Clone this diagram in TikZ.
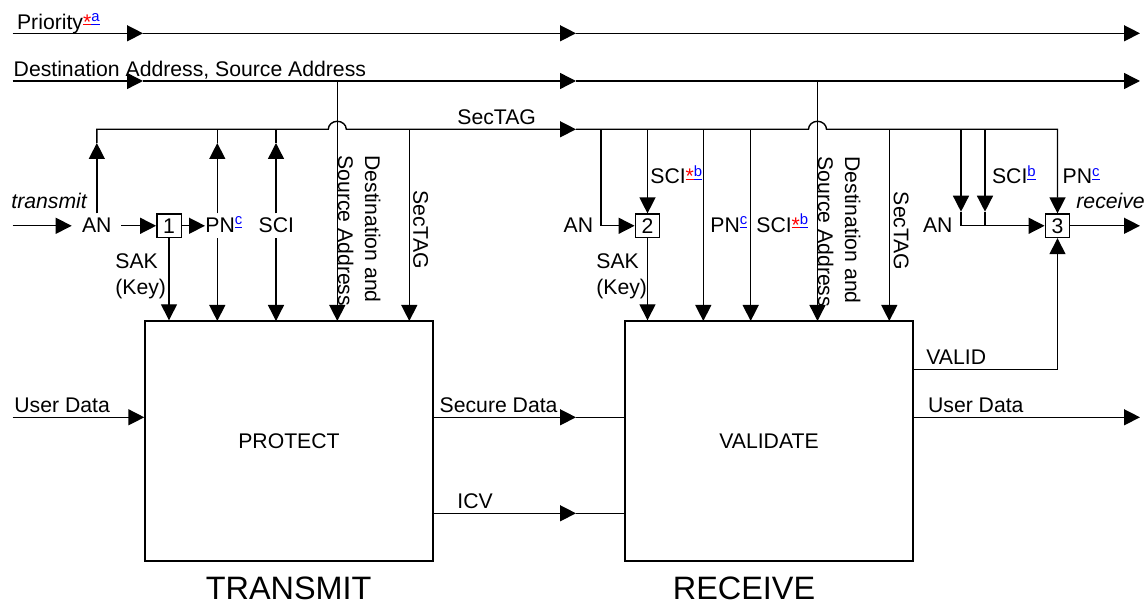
\documentclass[tikz,border=0pt]{standalone}
\usepackage{fontspec}
\setmainfont{Liberation Sans}
\usetikzlibrary{arrows.meta,calc}

\newcommand{\lblsize}{\fontsize{10.6pt}{13.5pt}\selectfont}
\newcommand{\bigsize}{\fontsize{16.2pt}{19pt}\selectfont}
\newcommand{\fnstar}{\textcolor{red}{*\llap{\rule[0.2em]{0.39em}{0.05em}}}}
\newcommand{\fnmark}[1]{\textsuperscript{\textcolor{blue}{\underline{#1}}}}

\begin{document}
\begin{tikzpicture}[x=0.5pt,y=-0.5pt]
\tikzset{wire/.style = {line width=0.7pt}}
\tikzset{flow/.style = {wire,-{Triangle[length=8pt,width=8pt]}}}
\tikzset{lbl/.style = {inner sep=0pt,font=\lblsize,anchor=base west}}
\tikzset{vlbl/.style = {inner sep=0pt,font=\lblsize,rotate=-90,anchor=north west,align=left}}
\tikzset{keybox/.style = {draw,line width=0.7pt,inner sep=0pt,minimum width=12.2pt,minimum height=11.7pt,font=\lblsize}}
\tikzset{block/.style = {draw,line width=0.7pt,inner sep=0pt,minimum width=144pt,minimum height=120pt,font=\lblsize}}
\useasboundingbox (0,0) rectangle (1148,604);

% blocks
\node[block] (protect) at (289,441) {PROTECT};
\node[block] (validate) at (769,441) {VALIDATE};
\node[keybox] (k1) at (169,225.8) {1};
\node[keybox] (k2) at (647.5,225.8) {2};
\node[keybox] (k3) at (1057.5,225.8) {3};
\node[font=\bigsize,inner sep=0pt,anchor=base] (txname) at (288.7,600) {TRANSMIT};
\node[font=\bigsize,inner sep=0pt,anchor=base] (rxname) at (744,600) {RECEIVE};

% rows and taps
\coordinate (ya) at (0,143);
\coordinate (yb) at (0,211.7);
\coordinate (xa) at (143,0);
\coordinate (xb) at (576,0);
\coordinate (pri-w) at (12.7,33.3);
\coordinate (pri-e) at (1140,33.3);
\coordinate (addr-w) at (12.7,81);
\coordinate (addr-e) at (1140,81);
\coordinate (tag-y) at (0,129.3);
\coordinate (tx-in) at (12.7,225.8);
\coordinate (rx-out) at (1140,225.8);
\coordinate (ud-in) at (12.7,417.3);
\coordinate (ud-out) at (1140,417.3);
\coordinate (valid-y) at (0,369.3);
\coordinate (icv-y) at (0,513.3);
\foreach \n/\x in {pn/217.3,sci/276,dst/337.3,tag/409.3}
  \coordinate (t-\n) at (\x,321);
\foreach \n/\x in {an/601,pn/703.3,sci/750.7,dst/817.5,tag/889.3}
  \coordinate (r-\n) at (\x,321);
\coordinate (r3-an) at (961,225.8);
\coordinate (r3-sci) at (985,225.8);

% labels
\node[lbl] (pri) at (16.7,29.3) {Priority\fnstar\fnmark{a}};
\node[lbl] (addr) at (13.3,76.7) {Destination Address, Source Address};
\node[lbl] (tag) at (457,125) {SecTAG};
\node[lbl] (txlbl) at (11,208.3) {\itshape transmit};
\node[lbl] (an1) at (81.7,232.3) {AN};
\node[lbl] (pn1) at (205,232.3) {PN\fnmark{c}};
\node[lbl] (sci1) at (258.3,232.3) {SCI};
\node[lbl] (sak1) at (115,269) {SAK};
\node[lbl] (key1) at (115,295) {(Key)};
\node[vlbl] (dst1) at (381,155) {Destination and\\Source Address};
\node[vlbl] (tag1) at (428.5,190) {SecTAG};
\node[lbl] (ud1) at (14,412.3) {User Data};
\node[lbl] (sd) at (439.3,412.3) {Secure Data};
\node[lbl] (icv) at (457,509) {ICV};
\node[lbl] (an2) at (563.3,232.3) {AN};
\node[lbl] (sci2) at (650,184) {SCI\fnstar\fnmark{b}};
\node[lbl] (sak2) at (596,269) {SAK};
\node[lbl] (key2) at (596,295) {(Key)};
\node[lbl] (pn2) at (710,232.3) {PN\fnmark{c}};
\node[lbl] (sci3) at (756,232.3) {SCI\fnstar\fnmark{b}};
\node[vlbl] (dst2) at (861,156) {Destination and\\Source Address};
\node[vlbl] (tag2) at (909,191.5) {SecTAG};
\node[lbl] (an3) at (922.7,232.3) {AN};
\node[lbl] (sci4) at (991.7,184) {SCI\fnmark{b}};
\node[lbl] (pn3) at (1062.3,184) {PN\fnmark{c}};
\node[lbl] (rxlbl) at (1076,208.3) {\itshape receive};
\node[lbl] (valid) at (926,364.3) {VALID};
\node[lbl] (ud2) at (927.7,412.3) {User Data};

% priority and address buses
\draw[flow] (pri-w) -- (xa |- pri-w);
\draw[flow] (xa |- pri-w) -- (xb |- pri-w);
\draw[flow] (xb |- pri-w) -- (pri-e);
\draw[flow] (addr-w) -- (xa |- addr-w);
\draw[flow] (xa |- addr-w) -- (xb |- addr-w);
\draw[flow] (xb |- addr-w) -- (addr-e);

% SecTAG bus, hopping over the address taps
\coordinate (tag-w) at (an1.north |- tag-y);
\draw[flow] (an1.north |- ya) -- (tag-w) -- ($(t-dst |- tag-y)+(-9,0)$)
  arc[start angle=180,end angle=0,x radius=4.5pt,y radius=4pt] -- (xb |- tag-y);
\draw[flow] (xb |- tag-y) -- ($(r-dst |- tag-y)+(-9,0)$)
  arc[start angle=180,end angle=0,x radius=4.5pt,y radius=4pt] -- (k3.north |- tag-y) -- (k3.north);

% transmit side
\draw[flow] (tx-in) -- ($(an1.west |- tx-in)+(-10,0)$);
\draw[flow] ($(an1.east |- tx-in)+(9.4,0)$) -- (k1.west);
\draw[flow] (k1.east) -- (k1.east -| pn1.west);
\draw[flow] (an1.north |- k1.north) -- (an1.north |- ya);
\foreach \n in {pn,sci} {
  \draw[flow] (t-\n |- k1.north) -- (t-\n |- ya);
  \draw[wire] (t-\n |- ya) -- (t-\n |- tag-y);
  \draw[flow] (t-\n |- k1.south) -- (t-\n);
}
\draw[flow] (k1.south) -- (k1.south |- protect.north);
\draw[flow] (t-dst |- addr-w) -- (t-dst);
\draw[flow] (t-tag |- tag-y) -- (t-tag);
\draw[flow] (ud-in) -- (ud-in -| protect.west);
\draw[flow] (protect.east |- ud-in) -- (xb |- ud-in);
\draw[wire] (xb |- ud-in) -- (validate.west |- ud-in);
\draw[flow] (protect.east |- icv-y) -- (xb |- icv-y);
\draw[wire] (xb |- icv-y) -- (validate.west |- icv-y);

% receive side
\draw[flow] (r-an |- tag-y) -- (r-an |- k2) -- (k2.west);
\draw[flow] (k2.north |- tag-y) -- (k2.north);
\draw[flow] (k2.south) -- (k2.south |- validate.north);
\foreach \n in {pn,sci,tag}
  \draw[flow] (r-\n |- tag-y) -- (r-\n);
\draw[flow] (r-dst |- addr-w) -- (r-dst);
\foreach \c in {r3-an,r3-sci} {
  \draw[flow] (\c |- tag-y) -- (\c |- yb);
  \draw[wire] (\c |- yb) -- (\c);
}
\draw[flow] (r3-an) -- (k3.west);
\draw[flow] (k3.east) -- (rx-out);
\draw[flow] (validate.east |- valid-y) -- (k3.south |- valid-y) -- (k3.south);
\draw[flow] (validate.east |- ud-out) -- (ud-out);
\end{tikzpicture}
\end{document}
